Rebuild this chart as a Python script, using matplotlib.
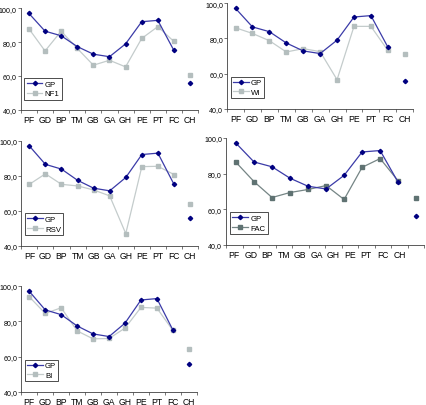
import numpy as np
import matplotlib
matplotlib.use('Agg')
from matplotlib import pyplot as plt
from matplotlib.ticker import FuncFormatter, FixedLocator

plt.rcParams['font.family'] = ['Liberation Sans', 'DejaVu Sans']

cats = ['PF', 'GD', 'BP', 'TM', 'GB', 'GA', 'GH', 'PE', 'PT', 'FC', 'CH']
gp = [97.0, 86.5, 83.8, 77.4, 72.9, 71.4, 79.0, 92.1, 92.9, 75.1, 56.1]
nf1 = [87.9, 74.8, 86.5, 76.3, 66.4, 69.3, 65.4, 82.2, 89.2, 80.4, 60.3]
wi = [86.0, 82.8, 78.7, 72.3, 74.2, 72.5, 56.6, 86.8, 86.8, 73.2, 71.3]
rsv = [75.1, 81.1, 75.1, 74.2, 71.9, 68.5, 47.0, 85.2, 85.4, 80.7, 63.9]
fac = [86.3, 75.5, 66.6, 69.4, 71.1, 73.3, 65.5, 83.5, 88.4, 75.9, 66.1]
bi = [93.9, 84.5, 87.7, 74.6, 70.1, 70.3, 76.2, 87.9, 87.5, 74.9, 64.6]

light = '#c4cccc'
light_m = '#b4bebe'
dark = '#758585'
dark_m = '#5f7272'

# (name, values, line colour, marker colour, axes rect in figure fractions)
panels = [
    ('NF1', nf1, light, light_m, [0.049, 0.727, 0.416, 0.250]),
    ('WI', wi, light, light_m, [0.533, 0.729, 0.437, 0.261]),
    ('RSV', rsv, light, light_m, [0.050, 0.392, 0.415, 0.259]),
    ('FAC', fac, dark, dark_m, [0.5305, 0.394, 0.465, 0.264]),
    ('BI', bi, light, light_m, [0.050, 0.032, 0.412, 0.261]),
]

fig = plt.figure(figsize=(4.26, 4.06), dpi=100)
x = np.arange(len(cats))
ms = 2.2

for name, vals, lc, mc, rect in panels:
    ax = fig.add_axes(rect)
    ax.plot(x[:10], vals[:10], color=lc, lw=0.9, marker='s', ms=ms,
            mfc=mc, mec=mc, label=name)
    ax.plot(x[10:], vals[10:], ls='none', marker='s', ms=ms, mfc=mc, mec=mc)
    ax.plot(x[:10], gp[:10], color='#3b3ba8', lw=0.9, marker='D', ms=ms,
            mfc='#000080', mec='#000080', label='GP')
    ax.plot(x[10:], gp[10:], ls='none', marker='D', ms=ms,
            mfc='#000080', mec='#000080')

    ax.set_ylim(40, 100)
    ax.set_yticks([40, 60, 80, 100])
    ax.yaxis.set_major_formatter(FuncFormatter(lambda v, p: ('%.1f' % v).replace('.', ',')))

    if name == 'FAC':
        # the category labels here are laid out for 12 slots
        xmin, xmax = -0.556, 10.44
        step = (xmax - xmin) / 12
        ax.set_xlim(xmin, xmax)
        ax.set_xticks([xmin + (k + 0.5) * step for k in range(11)])
        ax.xaxis.set_minor_locator(FixedLocator([xmin + k * step for k in range(13)]))
    else:
        ax.set_xlim(-0.5, 10.5)
        ax.set_xticks(x)
        ax.xaxis.set_minor_locator(FixedLocator(np.arange(-0.5, 11, 1.0)))
    ax.set_xticklabels(cats)

    for s in ['top', 'right']:
        ax.spines[s].set_visible(False)
    for s in ['left', 'bottom']:
        ax.spines[s].set_linewidth(0.6)
        ax.spines[s].set_color('#404040')
    ax.tick_params(axis='x', which='major', length=0, labelsize=6.2, pad=3.5)
    ax.tick_params(axis='x', which='minor', length=2.2, width=0.5, color='#404040')
    ax.tick_params(axis='y', length=2.0, width=0.5, labelsize=5.1, pad=0.8, color='#404040')

    h, l = ax.get_legend_handles_labels()
    leg = ax.legend(h[::-1], l[::-1], loc='lower left', bbox_to_anchor=(0.02, 0.1),
                    borderaxespad=0, fontsize=5.6, fancybox=False, framealpha=1,
                    handlelength=2.0, handletextpad=0.3, borderpad=0.3,
                    labelspacing=0.3)
    leg.get_frame().set_edgecolor('#303030')
    leg.get_frame().set_linewidth(0.6)

fig.savefig('out.png', dpi=100)
